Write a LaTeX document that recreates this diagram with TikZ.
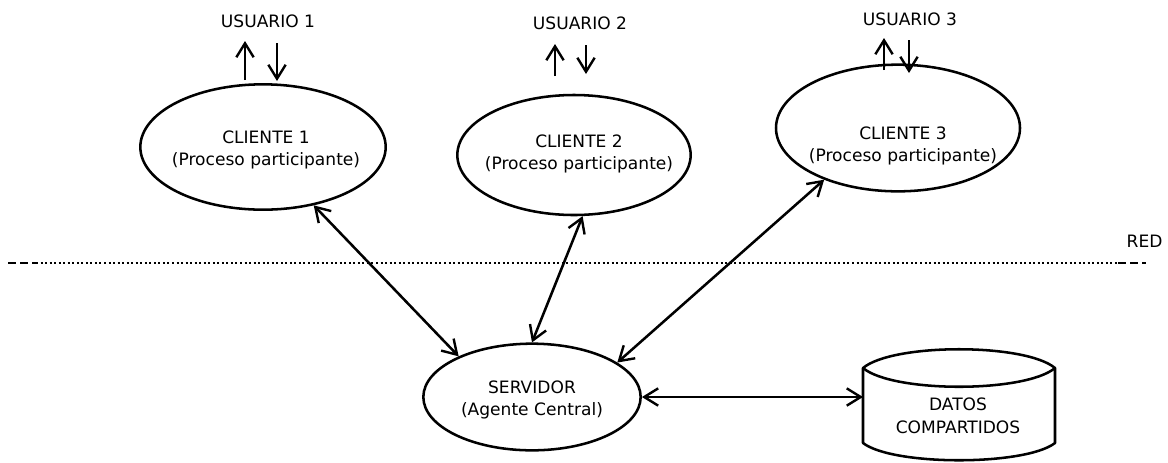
\documentclass[tikz,border=0pt]{standalone}
\usepackage{fontspec}
\setmainfont{DejaVu Sans}
\usetikzlibrary{arrows.meta,shapes.geometric}

\begin{document}
\begin{tikzpicture}[x=0.75pt,y=-0.75pt,
  lbl/.style={font=\fontsize{12.8}{17}\selectfont,align=center},
  proc/.style={ellipse,draw,line width=1.9pt,inner sep=0pt},
  barb/.tip={Straight Barb[length=10.5pt,width=13pt,line width=1.8pt]},
  link/.style={line width=1.9pt,barb-barb},
  io/.style={line width=1.9pt,-barb}
]
\useasboundingbox (0,0) rectangle (1168,462);

% processes: outlines, then their captions
\node[proc,minimum width=184pt,minimum height=94pt] (c1) at (263,147) {};
\node[proc,minimum width=175pt,minimum height=90pt] (c2) at (574,155) {};
\node[proc,minimum width=183pt,minimum height=95pt] (c3) at (898,128) {};
\node[proc,minimum width=163pt,minimum height=80pt] (srv) at (532,397) {};
\node[lbl] (c1t) at (266,150) {CLIENTE 1\\(Proceso participante)};
\node[lbl] (c2t) at (579,154) {CLIENTE 2\\(Proceso participante)};
\node[lbl] (c3t) at (903,146) {CLIENTE 3\\(Proceso participante)};
\node[lbl] (srvt) at (532,400) {SERVIDOR\\(Agente Central)};

% users
\node[lbl] (u1) at (268,21) {USUARIO 1};
\node[lbl] (u2) at (580,23) {USUARIO 2};
\node[lbl] (u3) at (910,19) {USUARIO 3};

\coordinate (u1a) at (245,80); \coordinate (u1b) at (245,41);
\coordinate (u1c) at (277,43); \coordinate (u1d) at (277,81);
\coordinate (u2a) at (555,76); \coordinate (u2b) at (555,44);
\coordinate (u2c) at (586,45); \coordinate (u2d) at (586,74);
\coordinate (u3a) at (884,70); \coordinate (u3b) at (884,38);
\coordinate (u3c) at (909,40); \coordinate (u3d) at (909,73);
\draw[io] (u1a) -- (u1b);
\draw[io] (u1c) -- (u1d);
\draw[io] (u2a) -- (u2b);
\draw[io] (u2c) -- (u2d);
\draw[io] (u3a) -- (u3b);
\draw[io] (u3c) -- (u3d);

% shared data store (cylinder)
\node[lbl] (datos) at (958,416) {DATOS\\COMPARTIDOS};
\draw[line width=1.9pt,line join=round]
  (863,368) .. controls (893,343) and (1025,343) .. (1055,368)
  -- (1055,443) .. controls (1025,466) and (893,466) .. (863,443) -- cycle;
\draw[line width=1.9pt] (863,368) .. controls (893,393) and (1025,393) .. (1055,368);
\coordinate (dl) at (863,397);

% network boundary
\coordinate (n0) at (8,263);
\coordinate (n1) at (36,263);
\coordinate (n2) at (1118,263);
\coordinate (n3) at (1146,263);
\draw[line width=1.9pt,dash pattern=on 6pt off 3pt] (n0) -- (n1);
\draw[line width=1.8pt,dash pattern=on 1.5pt off 1.9pt] (n1) -- (n2);
\draw[line width=1.9pt,dash pattern=on 6pt off 3pt] (n2) -- (n3);
\node[lbl,anchor=west] (red) at (1122,241) {RED};

% connections
\draw[link] (c1.-49.5) -- (srv.151);
\draw[link] (c2.-82) -- (srv.90);
\draw[link] (c3.-145) -- (srv.22);
\draw[link] (srv.east) -- (dl);
\end{tikzpicture}
\end{document}
